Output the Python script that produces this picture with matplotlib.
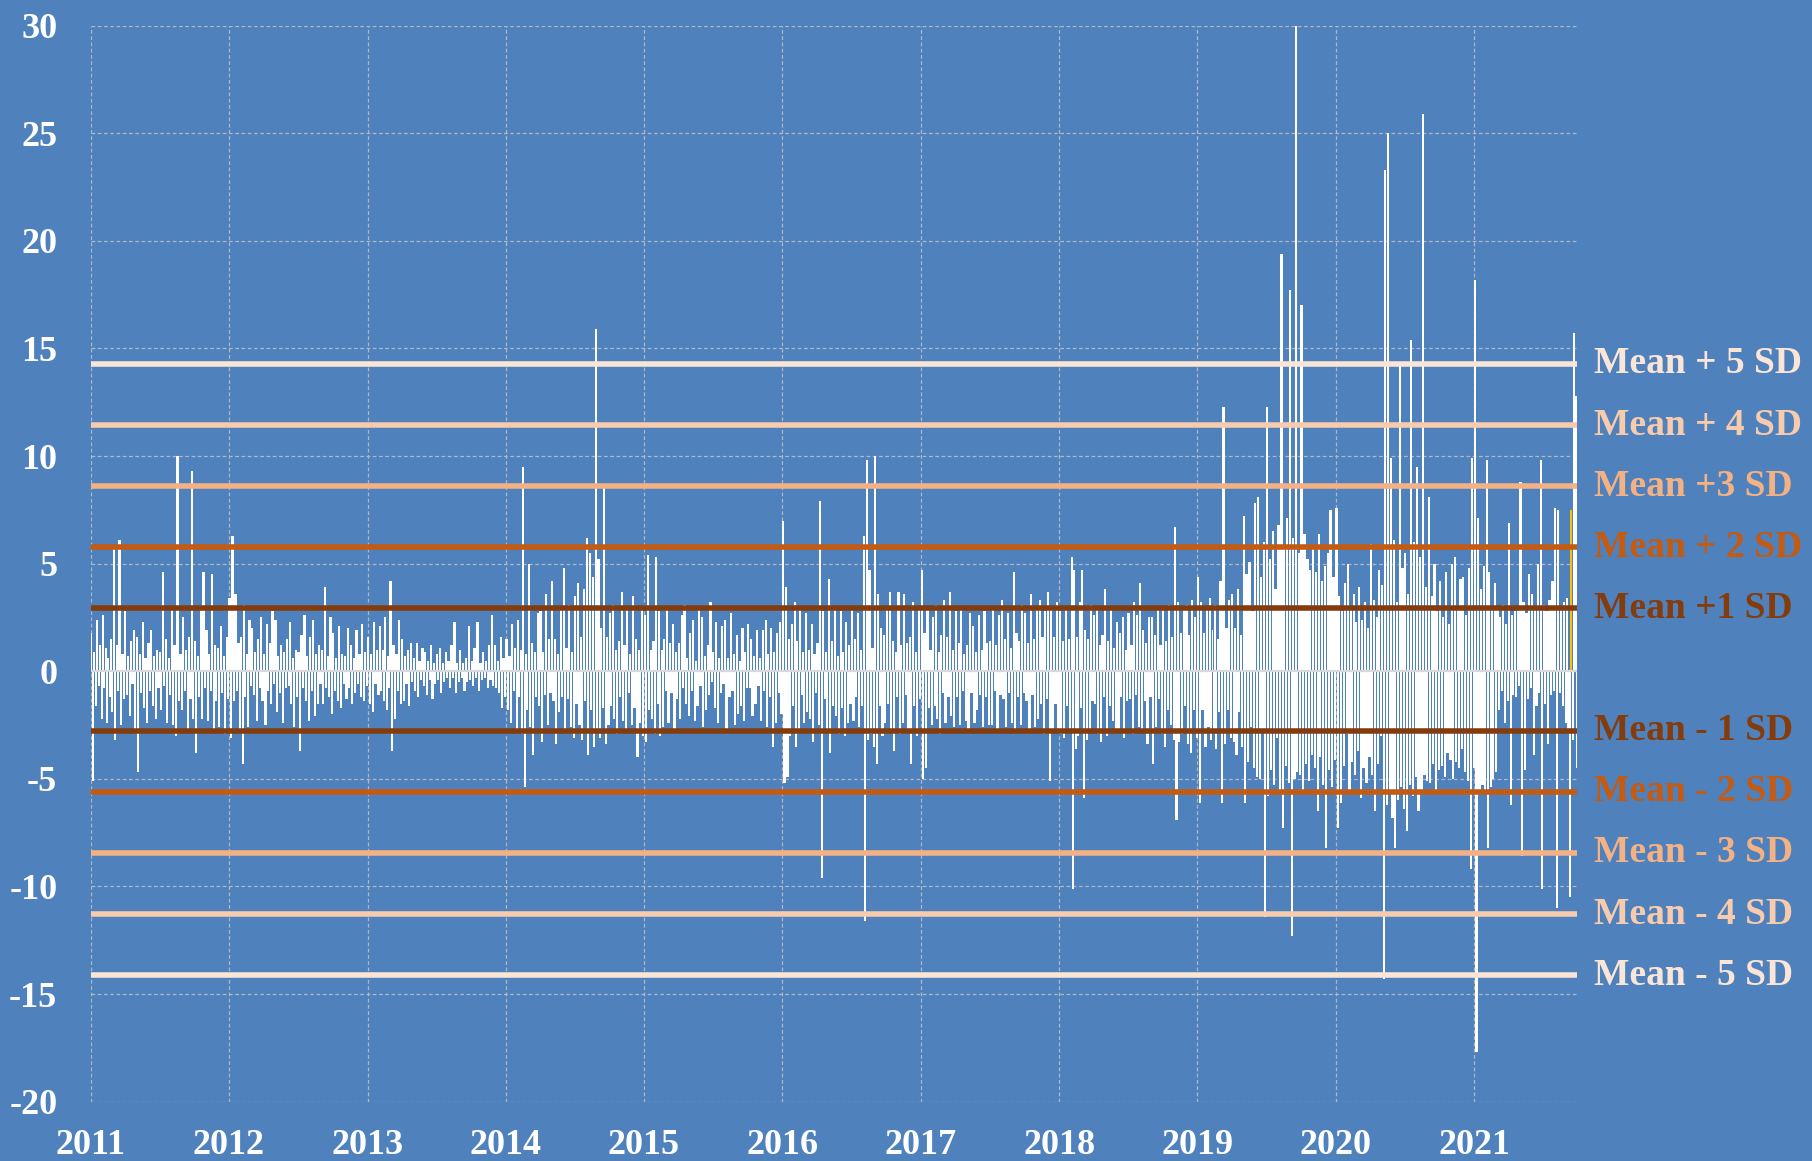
import pandas as pd
import matplotlib
matplotlib.use('Agg')
import matplotlib.pyplot as plt
import matplotlib.dates as mdates

# daily % changes: one row per month, 8 readings per month
ret_2011 = [
    [1.8, -5.1, 0.9, -1.6, 2.4, -0.7, 1.2, -2.2],
    [2.6, -0.8, 1.1, -2.4, 0.6, -1.2, 1.5, -1.9],
    [5.7, -3.2, 1.2, -0.9, 6.1, -2.5, 0.8, -1.3],
    [2.8, -1.1, 0.7, -2.1, 1.4, -0.6, 1.9, -2.8],
    [1.6, -4.7, 0.8, -1.0, 2.3, -1.7, 0.6, -2.4],
    [1.3, -0.9, 1.9, -1.6, 0.7, -2.2, 1.0, -0.8],
    [0.9, -1.8, 4.6, -0.7, 1.5, -2.4, 0.6, -1.1],
    [3.0, -2.5, 1.2, -3.0, 10.0, -1.4, 0.8, -1.8],
    [2.5, -0.9, 1.0, -2.8, 1.6, -1.3, 9.3, -2.2],
    [1.4, -3.8, 0.7, -1.2, 2.9, -2.2, 4.6, -0.8],
    [1.9, -2.3, 0.8, -0.9, 4.5, -2.7, 1.2, -1.4],
    [1.1, -2.6, 2.1, -1.0, 0.7, -2.9, 1.6, -1.3],
]
ret_2012 = [
    [3.4, -3.1, 6.3, -1.4, 3.6, -0.9, 1.3, -2.8],
    [1.6, -4.3, 3.1, -1.2, 0.8, -2.6, 2.4, -0.7],
    [2.0, -1.1, 0.9, -2.3, 1.5, -0.8, 2.5, -1.4],
    [0.8, -2.5, 2.2, -0.9, 1.3, -1.5, 2.8, -0.6],
    [2.4, -1.9, 0.7, -1.0, 1.2, -2.4, 0.9, -0.8],
    [1.5, -0.7, 2.3, -1.5, 0.6, -2.6, 1.0, -1.2],
    [0.9, -3.7, 1.7, -0.8, 2.6, -1.4, 0.7, -2.3],
    [1.6, -0.9, 2.4, -2.1, 0.8, -1.5, 1.2, -0.6],
    [1.0, -1.5, 3.9, -0.8, 0.7, -1.2, 2.5, -2.0],
    [1.8, -0.9, 0.6, -1.4, 2.1, -1.7, 0.8, -0.6],
    [0.7, -1.3, 2.0, -0.8, 1.2, -1.5, 0.6, -1.0],
    [1.9, -0.6, 0.8, -1.2, 2.2, -1.4, 0.9, -0.7],
]
ret_2013 = [
    [1.6, -1.5, 0.8, -1.9, 2.3, -0.6, 1.0, -1.1],
    [2.1, -0.9, 1.0, -1.4, 2.5, -1.8, 0.7, -0.8],
    [4.2, -3.7, 1.2, -2.2, 0.8, -0.9, 2.4, -1.5],
    [1.5, -1.4, 0.7, -0.6, 1.0, -1.6, 1.3, -0.5],
    [0.6, -0.9, 1.3, -1.2, 0.5, -0.4, 1.1, -0.7],
    [0.9, -1.1, 0.5, -0.4, 1.2, -1.3, 0.4, -0.6],
    [0.8, -0.4, 1.1, -1.0, 0.4, -0.5, 0.9, -0.3],
    [0.5, -0.8, 1.2, -0.3, 2.3, -1.0, 0.4, -0.5],
    [1.0, -0.3, 0.4, -0.9, 0.6, -0.5, 2.1, -0.4],
    [0.5, -0.7, 1.1, -0.3, 2.3, -0.9, 0.4, -0.4],
    [0.9, -0.3, 0.5, -0.8, 1.2, -0.4, 2.6, -0.7],
    [1.2, -0.8, 0.5, -1.0, 1.6, -1.7, 0.6, -1.2],
]
ret_2014 = [
    [1.5, -1.8, 0.7, -2.4, 2.2, -0.9, 1.1, -2.7],
    [2.4, -1.2, 1.0, -2.9, 9.5, -5.4, 0.8, -1.8],
    [5.0, -2.6, 1.3, -3.9, 0.9, -1.2, 2.7, -1.6],
    [2.8, -3.3, 0.9, -1.1, 3.6, -2.5, 1.5, -1.0],
    [4.2, -1.4, 1.5, -3.4, 0.8, -1.9, 3.0, -1.2],
    [4.8, -2.8, 1.1, -1.3, 3.1, -2.6, 0.9, -3.1],
    [3.5, -1.5, 4.1, -2.5, 1.6, -3.2, 3.8, -1.4],
    [6.2, -3.9, 5.5, -1.8, 4.4, -3.5, 15.9, -2.8],
    [5.2, -3.1, 2.0, -1.7, 8.5, -3.4, 1.6, -2.5],
    [2.7, -1.6, 3.1, -2.2, 1.0, -2.9, 1.4, -1.2],
    [3.7, -2.3, 1.2, -2.8, 2.9, -1.0, 0.8, -2.5],
    [3.5, -1.7, 1.5, -4.0, 1.0, -2.4, 3.0, -3.0],
]
ret_2015 = [
    [2.6, -3.3, 5.4, -1.8, 1.0, -2.2, 1.4, -2.9],
    [5.3, -1.5, 2.8, -3.0, 1.0, -2.6, 1.5, -0.9],
    [2.9, -2.4, 1.3, -1.0, 2.2, -2.7, 0.9, -1.3],
    [1.3, -2.2, 2.6, -0.8, 3.1, -1.5, 0.6, -2.1],
    [1.8, -0.9, 2.4, -2.3, 0.5, -1.6, 2.9, -0.7],
    [2.5, -2.6, 0.7, -1.8, 1.2, -1.1, 3.2, -0.5],
    [0.9, -1.7, 2.3, -2.4, 0.6, -1.0, 2.1, -0.6],
    [2.4, -2.8, 0.6, -1.2, 2.7, -0.9, 0.8, -2.5],
    [1.7, -2.0, 0.5, -1.6, 2.0, -2.3, 0.9, -0.8],
    [2.2, -0.8, 1.5, -2.1, 0.7, -1.5, 1.9, -0.7],
    [0.6, -2.3, 1.9, -0.9, 2.4, -2.6, 0.8, -1.2],
    [2.0, -3.5, 0.9, -2.4, 1.8, -1.0, 2.3, -2.0],
]
ret_2016 = [
    [7.0, -5.2, 3.9, -4.9, 1.5, -3.0, 2.2, -1.6],
    [3.2, -3.5, 1.4, -2.8, 2.9, -1.1, 0.9, -2.4],
    [2.7, -1.9, 1.0, -2.2, 2.2, -3.3, 0.8, -1.0],
    [1.3, -2.5, 7.9, -9.6, 2.8, -1.3, 0.9, -2.8],
    [4.3, -3.8, 1.4, -1.6, 2.9, -2.1, 0.7, -2.9],
    [2.8, -1.7, 0.9, -3.0, 2.3, -2.4, 1.2, -1.5],
    [3.0, -2.3, 1.5, -1.2, 2.7, -2.6, 1.0, -1.6],
    [6.3, -11.6, 9.8, -3.2, 4.7, -2.9, 1.1, -3.5],
    [10.0, -4.3, 3.6, -1.6, 2.0, -3.0, 1.7, -2.4],
    [2.9, -1.5, 3.7, -2.8, 1.4, -3.7, 0.9, -1.2],
    [3.7, -2.9, 1.2, -2.4, 3.6, -1.1, 1.3, -2.7],
    [1.6, -4.3, 3.2, -1.6, 0.9, -3.0, 2.9, -1.3],
]
ret_2017 = [
    [4.7, -5.0, 1.8, -4.5, 3.0, -1.7, 1.0, -2.5],
    [2.5, -1.6, 3.1, -2.2, 0.9, -2.9, 1.7, -1.0],
    [3.3, -2.4, 1.6, -1.2, 3.7, -2.1, 1.0, -2.6],
    [2.8, -1.2, 1.3, -2.5, 2.9, -0.9, 0.8, -2.3],
    [1.2, -2.8, 2.7, -1.0, 2.1, -2.4, 0.9, -1.8],
    [2.6, -1.1, 1.0, -2.6, 2.8, -1.2, 1.3, -2.5],
    [1.4, -2.5, 2.9, -0.9, 1.2, -2.7, 2.6, -1.1],
    [3.3, -1.3, 1.5, -2.6, 2.7, -1.0, 1.1, -2.4],
    [4.6, -2.7, 1.8, -1.2, 1.4, -2.5, 3.1, -1.0],
    [2.7, -1.4, 1.3, -2.8, 3.6, -1.1, 1.5, -2.6],
    [2.9, -2.2, 3.3, -1.5, 1.6, -2.9, 2.8, -1.3],
    [3.7, -5.1, 3.0, -2.7, 1.6, -1.5, 3.2, -2.8],
]
ret_2018 = [
    [2.8, -2.9, 1.4, -3.1, 3.0, -1.6, 1.5, -2.8],
    [5.3, -10.1, 4.7, -3.6, 1.6, -3.0, 3.2, -1.7],
    [4.7, -5.9, 1.9, -3.2, 1.5, -2.8, 3.1, -1.4],
    [2.6, -1.5, 3.0, -2.9, 1.2, -3.3, 1.7, -1.2],
    [3.8, -3.0, 1.4, -1.6, 2.9, -2.3, 1.1, -2.8],
    [2.3, -2.7, 1.8, -1.2, 2.5, -3.1, 1.0, -1.4],
    [2.7, -1.3, 1.2, -2.9, 3.2, -1.1, 2.6, -2.6],
    [4.1, -2.8, 1.9, -1.4, 1.3, -3.4, 2.5, -1.2],
    [2.5, -4.3, 1.7, -2.6, 3.0, -1.3, 1.2, -2.9],
    [2.9, -3.5, 1.4, -1.8, 3.1, -2.5, 1.6, -3.2],
    [6.7, -6.9, 3.2, -3.3, 1.8, -2.9, 3.0, -1.6],
    [3.1, -3.4, 1.7, -3.8, 3.3, -1.8, 2.5, -3.1],
]
ret_2019 = [
    [4.4, -6.1, 3.2, -1.8, 1.8, -3.5, 3.0, -2.6],
    [3.4, -3.2, 1.9, -2.7, 3.1, -3.6, 1.5, -1.9],
    [4.2, -6.1, 12.3, -3.4, 2.0, -1.8, 3.3, -3.1],
    [3.6, -3.3, 2.0, -3.9, 3.8, -1.9, 1.7, -3.5],
    [7.2, -6.1, 4.5, -4.2, 5.1, -2.6, 2.8, -4.5],
    [7.8, -4.9, 8.1, -5.0, 4.4, -2.8, 6.0, -11.4],
    [12.3, -5.8, 5.2, -4.6, 6.5, -5.3, 3.8, -3.1],
    [6.8, -5.5, 19.4, -7.3, 5.8, -4.4, 7.1, -5.2],
    [17.7, -12.3, 6.2, -5.0, 30.0, -4.7, 5.5, -4.8],
    [17.0, -5.6, 6.4, -4.3, 5.2, -5.1, 4.7, -3.9],
    [5.8, -4.5, 4.6, -6.5, 6.4, -4.0, 4.2, -5.3],
    [4.9, -8.2, 5.5, -4.6, 7.5, -5.4, 4.4, -4.1],
]
ret_2020 = [
    [7.6, -7.3, 3.5, -6.1, 2.8, -4.4, 4.1, -2.9],
    [5.0, -5.6, 2.9, -4.2, 3.6, -4.8, 2.3, -3.7],
    [3.9, -5.9, 2.4, -4.5, 3.2, -5.2, 2.0, -4.0],
    [5.9, -4.8, 3.3, -6.5, 2.5, -4.3, 4.7, -3.0],
    [4.0, -14.3, 23.3, -6.2, 25.0, -5.5, 9.9, -6.8],
    [6.1, -8.2, 3.2, -6.0, 14.2, -5.4, 4.8, -6.4],
    [5.5, -7.4, 3.6, -5.3, 15.4, -5.8, 6.0, -4.9],
    [9.5, -6.5, 5.3, -5.5, 25.9, -4.8, 3.9, -5.1],
    [8.1, -5.2, 3.5, -4.3, 5.0, -5.6, 2.8, -4.6],
    [4.2, -4.4, 2.5, -4.9, 4.6, -3.8, 2.2, -4.1],
    [5.0, -5.0, 5.3, -4.2, 2.9, -4.5, 4.3, -3.6],
    [4.4, -4.7, 2.6, -5.1, 4.8, -9.2, 9.9, -4.5],
]
ret_2021 = [
    [18.2, -17.7, 7.1, -5.5, 3.8, -5.3, 4.9, -5.6],
    [9.8, -8.2, 4.6, -5.4, 2.9, -5.0, 4.1, -4.7],
    [2.9, -1.8, 2.5, -0.9, 3.1, -2.4, 2.2, -1.4],
    [6.9, -6.2, 2.6, -1.1, 2.8, -1.2, 3.0, -0.7],
    [8.8, -8.6, 3.2, -4.6, 2.7, -1.3, 4.5, -0.8],
    [3.6, -3.9, 2.9, -1.6, 5.0, -1.0, 9.8, -10.1],
    [3.1, -1.5, 2.8, -3.4, 3.3, -1.1, 4.2, -0.9],
    [7.6, -11.0, 7.5, -1.0, 2.9, -1.6, 3.2, -2.4],
    [3.4, -2.7, -10.5, 7.5, -3.2, 15.7, 12.8, -4.5],
]

mean_val = 0.08
sd_val = 2.84
sd_levels = [5, 4, 3, 2, 1, -1, -2, -3, -4, -5]
sd_labels = ['Mean + 5 SD', 'Mean + 4 SD', 'Mean +3 SD', 'Mean + 2 SD', 'Mean +1 SD',
             'Mean - 1 SD', 'Mean - 2 SD', 'Mean - 3 SD', 'Mean - 4 SD', 'Mean - 5 SD']
sd_colors = ['#FBE5D6', '#F8CBAD', '#F4B183', '#C55A11', '#843C0C',
             '#843C0C', '#C55A11', '#F4B183', '#F8CBAD', '#FBE5D6']
year_ticks = list(range(2011, 2022))
y_ticks = list(range(-20, 31, 5))

by_year = {2011: ret_2011, 2012: ret_2012, 2013: ret_2013, 2014: ret_2014,
           2015: ret_2015, 2016: ret_2016, 2017: ret_2017, 2018: ret_2018,
           2019: ret_2019, 2020: ret_2020, 2021: ret_2021}

xs, ys, ws = [], [], []
for year, months in by_year.items():
    for m, vals in enumerate(months, start=1):
        start = pd.Timestamp(year, m, 1)
        step = start.days_in_month / len(vals)
        base = mdates.date2num(start)
        for i, v in enumerate(vals):
            xs.append(base + (i + 0.5) * step)
            ys.append(v)
            ws.append(step * 1.5)

bg = '#4F81BD'
font = 'Liberation Serif'

fig = plt.figure(figsize=(18.12, 11.61), dpi=100)
fig.patch.set_facecolor(bg)
ax = fig.add_axes([0.05, 0.0511, 0.8201, 0.9268])
ax.set_facecolor(bg)

bars = ax.bar(xs, ys, width=ws, color='white', linewidth=0, zorder=2)
bars[-5].set_color('#FFC000')

ax.axhline(0, color='#D9D9D9', lw=1.6, zorder=3)

for lvl, lab, col in zip(sd_levels, sd_labels, sd_colors):
    val = mean_val + lvl * sd_val
    ax.axhline(val, color=col, lw=4, zorder=4)
    ax.text(1.012, val, lab, transform=ax.get_yaxis_transform(), ha='left', va='center',
            color=col, fontsize=27, fontweight='bold', family=font)

ax.set_xlim(mdates.date2num(pd.Timestamp(2011, 1, 1)), mdates.date2num(pd.Timestamp(2021, 9, 28)))
ax.set_ylim(-20, 30)
ax.set_xticks([mdates.date2num(pd.Timestamp(y, 1, 1)) for y in year_ticks])
ax.set_xticklabels([str(y) for y in year_ticks])
ax.set_yticks(y_ticks)
ax.set_yticklabels([str(v) for v in y_ticks])
for lbl in ax.get_xticklabels() + ax.get_yticklabels():
    lbl.set_family(font)
    lbl.set_fontweight('bold')
    lbl.set_fontsize(26)
    lbl.set_color('white')
ax.tick_params(axis='y', length=0, pad=24)
ax.tick_params(axis='x', length=0, pad=20)

ax.grid(True, color='#AEB8C6', lw=0.9, linestyle=(0, (3, 2)), zorder=0)
ax.set_axisbelow(True)
for s in ax.spines.values():
    s.set_visible(False)

fig.savefig('out.png', dpi=100, facecolor=bg)
